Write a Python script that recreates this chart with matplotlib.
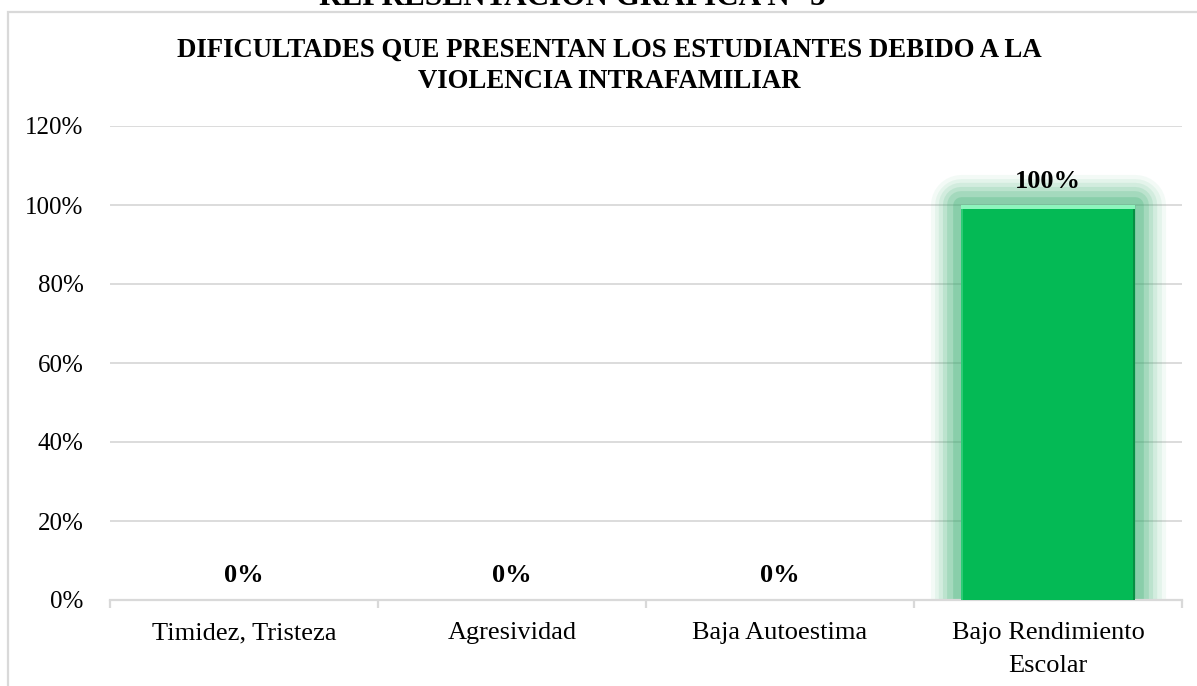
import numpy as np
import matplotlib.pyplot as plt
from matplotlib.patches import Rectangle
from matplotlib.ticker import FuncFormatter, FixedLocator

# -----------------------------
# Data
# -----------------------------
categorias = ["Timidez, Tristeza", "Agresividad", "Baja Autoestima", "Bajo Rendimiento\nEscolar"]
porcentajes = [0, 0, 0, 100]
etiquetas = ["0%", "0%", "0%", "100%"]

titulo = "DIFICULTADES QUE PRESENTAN LOS ESTUDIANTES DEBIDO A LA\nVIOLENCIA INTRAFAMILIAR"
encabezado = "REPRESENTACIÓN GRÁFICA N° 5"

plt.rcParams['font.family'] = ['Liberation Serif', 'DejaVu Serif']

W, H = 1197, 686
fig = plt.figure(figsize=(W / 100, H / 100), dpi=100)

# chart frame (runs off right and bottom like the screenshot)
fig.patches.append(Rectangle((8 / W, -0.05), 1.2, 1 - 12 / H + 0.05,
                             transform=fig.transFigure, fill=False,
                             edgecolor='#d9d9d9', linewidth=1.6, zorder=0))

# header of the page, cut by the top edge
fig.text(572 / W, 1 - 5 / H, encabezado, ha='center', va='baseline',
         fontsize=22.5, fontweight='bold')

# chart title, one text per line at fixed baselines
for k, linea in enumerate(titulo.split("\n")):
    fig.text(609 / W, 1 - (57 + 31 * k) / H, linea, ha='center', va='baseline',
             fontsize=19.3, fontweight='bold')

# -----------------------------
# Axes
# -----------------------------
ax = fig.add_axes([110 / W, 1 - 600 / H, (1182 - 110) / W, (600 - 126) / H])

x = np.arange(len(categorias))
bar_w = 0.65

# soft green glow behind the bars
for i, v in enumerate(porcentajes):
    if v <= 0:
        continue
    for lw, a in [(44, 0.06), (38, 0.08), (32, 0.10), (26, 0.14), (20, 0.18), (12, 0.25)]:
        ax.add_patch(Rectangle((x[i] - bar_w / 2, 0), bar_w, v, facecolor='#3aae72',
                               edgecolor='#3aae72', linewidth=lw, alpha=a,
                               joinstyle='round', zorder=1))

ax.bar(x, porcentajes, width=bar_w, color='#04ba55', linewidth=0, zorder=3)

# bevel: light top strip, darker right side
for i, v in enumerate(porcentajes):
    if v > 0:
        ax.add_patch(Rectangle((x[i] - bar_w / 2, v - 1.0), bar_w, 1.0,
                               facecolor='#8ef5bd', edgecolor='none', zorder=4))
        ax.add_patch(Rectangle((x[i] + bar_w / 2 - 0.008, 0), 0.008, v - 1.0,
                               facecolor='#078f43', edgecolor='none', zorder=4))
        ax.add_patch(Rectangle((x[i] - bar_w / 2, 0), 0.006, v - 1.0,
                               facecolor='#2ccc75', edgecolor='none', zorder=4))

# data labels
for i, v in enumerate(porcentajes):
    ax.annotate(etiquetas[i], (x[i], v), xytext=(0, 12.6), textcoords='offset points',
                ha='center', va='baseline', fontsize=19, fontweight='bold', zorder=5)

ax.set_xlim(-0.5, len(categorias) - 0.5)
ax.set_ylim(0, 120)
ax.set_yticks(np.arange(0, 121, 20))
ax.yaxis.set_major_formatter(FuncFormatter(lambda v, p: f"{int(v)}%"))
ax.grid(axis='y', color='#d9d9d9', linewidth=1.3, zorder=0)
ax.set_axisbelow(True)

# category labels: each line placed at its own baseline below the axis
ax.set_xticks(x)
ax.set_xticklabels([])
for i, cat in enumerate(categorias):
    for k, linea in enumerate(cat.split("\n")):
        ax.annotate(linea, (x[i], 0), xycoords=('data', 'axes fraction'),
                    xytext=(0, -(39 + 33 * k) * 0.72), textcoords='offset points',
                    ha='center', va='baseline', fontsize=19)

ax.xaxis.set_minor_locator(FixedLocator(np.arange(-0.5, len(categorias), 1)))
ax.tick_params(axis='x', which='major', length=0)
ax.tick_params(axis='x', which='minor', length=6, color='#d9d9d9', width=1.6)
ax.tick_params(axis='y', length=0, labelsize=18, pad=19)

for s in ['top', 'right', 'left']:
    ax.spines[s].set_visible(False)
ax.spines['bottom'].set_color('#d9d9d9')
ax.spines['bottom'].set_linewidth(1.6)

fig.savefig("out.png", dpi=100)
